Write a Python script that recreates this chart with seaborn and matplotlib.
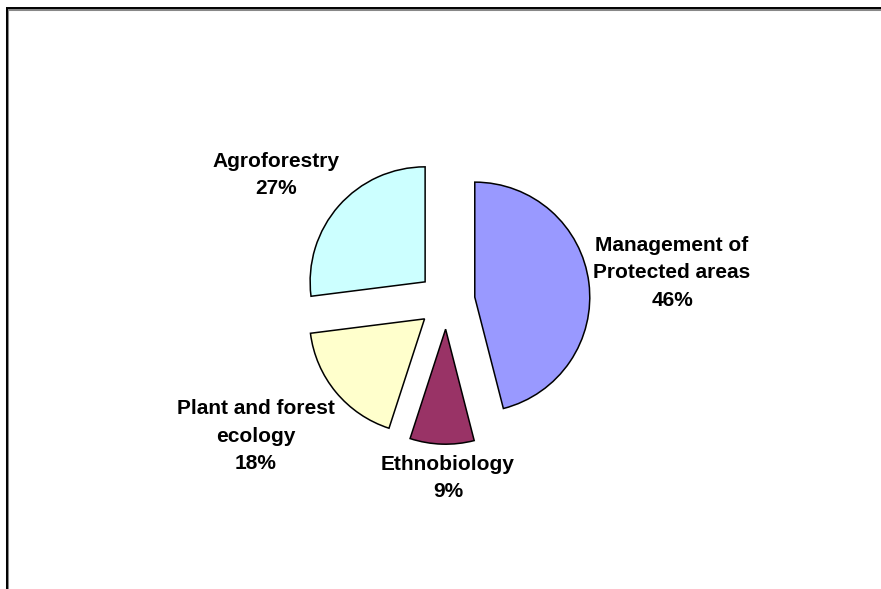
import matplotlib
matplotlib.use('Agg')
import matplotlib.pyplot as plt
from matplotlib.lines import Line2D
import seaborn as sns

# data
categories = ['Management of\nProtected areas', 'Ethnobiology', 'Plant and forest\necology', 'Agroforestry']
shares = [46, 9, 18, 27]
colors = ['#9999FF', '#993366', '#FFFFCC', '#CCFFFF']

sns.set_theme(style='white')
plt.rcParams['font.family'] = ['Liberation Sans', 'DejaVu Sans']

W, H = 881, 589
fig = plt.figure(figsize=(W / 100, H / 100), dpi=100, facecolor='white')
ax = fig.add_axes([0, 0, 1, 1])

# pie placed in pixel coords (y measured from the bottom); explode is in data units here
cx, cy, r = 446.5, H - 300.7, 115
wedges, _ = ax.pie(shares, colors=colors, startangle=90, counterclock=False,
                   explode=[28.5] * len(shares), center=(cx, cy), radius=r,
                   wedgeprops={'edgecolor': 'black', 'linewidth': 1.1},
                   frame=True)
ax.set_xlim(0, W)
ax.set_ylim(0, H)
ax.set_aspect('equal')
ax.axis('off')

# label block centres (pixel coords, from top)
label_pos = [(672, 273), (448, 478), (256, 436), (276, 175)]
for name, val, (lx, ly) in zip(categories, shares, label_pos):
    ax.text(lx, H - ly, f'{name}\n{val}%', ha='center', va='center',
            fontsize=15, fontweight='bold', color='black', linespacing=1.55)

# chart-area frame (left and top edges visible)
fig.add_artist(Line2D([7 / W, 7 / W], [0, 1 - 8.5 / H], transform=fig.transFigure,
                      color='#888888', linewidth=2.2, solid_capstyle='butt'))
fig.add_artist(Line2D([6.5 / W, 1], [1 - 8.5 / H, 1 - 8.5 / H], transform=fig.transFigure,
                      color='#888888', linewidth=2.2, solid_capstyle='butt'))
fig.add_artist(Line2D([6.5 / W, 6.5 / W], [0, 1 - 8 / H], transform=fig.transFigure,
                      color='black', linewidth=1.4, solid_capstyle='butt'))
fig.add_artist(Line2D([6 / W, 1], [1 - 8 / H, 1 - 8 / H], transform=fig.transFigure,
                      color='black', linewidth=1.4, solid_capstyle='butt'))

fig.savefig('out.png', dpi=100, facecolor='white')
